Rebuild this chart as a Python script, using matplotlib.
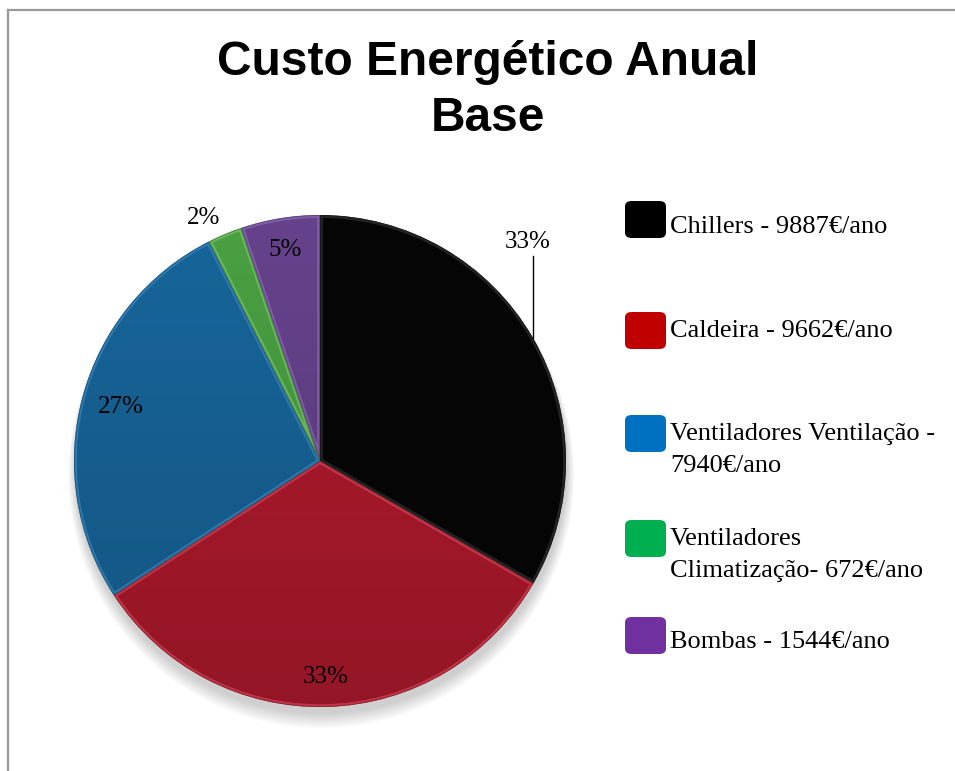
import numpy as np
import matplotlib.pyplot as plt
from matplotlib.patches import FancyBboxPatch, Circle, Wedge
from matplotlib.lines import Line2D

# custo anual por componente (euros/ano)
nomes = ["Chillers - 9887€/ano", "Caldeira - 9662€/ano",
         "Ventiladores Ventilação -\n7940€/ano",
         "Ventiladores\nClimatização- 672€/ano", "Bombas - 1544€/ano"]
custos = [9887, 9662, 7940, 672, 1544]
cores_fatia = ["#060606", "#B01A2D", "#17659A", "#4AA042", "#66428C"]
cores_borda = ["#3a3a3a", "#E0485C", "#3E8CC4", "#7CCB70", "#9272BC"]
cores_legenda = ["#000000", "#C00000", "#0070C0", "#00B050", "#7030A0"]

# distancia de cada rotulo ao centro (raio = 1)
dist_rotulo = [1.24, 0.88, 0.84, 1.07, 0.87]

W, H = 955, 771
fig = plt.figure(figsize=(W / 100, H / 100), dpi=100)
fig.patch.set_facecolor("white")

# moldura (so topo e esquerda visiveis)
fig.add_artist(Line2D([8 / W, 8 / W], [0, 1 - 10 / H], color="#9a9a9a", lw=1.6))
fig.add_artist(Line2D([8 / W, 1], [1 - 10 / H, 1 - 10 / H], color="#9a9a9a", lw=1.6))

fig.text(488 / W, 1 - 75 / H, "Custo Energético Anual", ha="center", va="baseline",
         fontsize=34.5, fontweight="bold", family="Liberation Sans")
fig.text(488 / W, 1 - 131 / H, "Base", ha="center", va="baseline",
         fontsize=34.5, fontweight="bold", family="Liberation Sans")

cx, cy, r = 320, 461, 246
ax = fig.add_axes([(cx - r) / W, (H - cy - r) / H, 2 * r / W, 2 * r / H])
ax.axis("off")

# sombra por baixo do disco
for k in range(8):
    ax.add_patch(Circle((0.005, -0.03 - 0.004 * k), 1.0 + 0.004 * k,
                        color="black", alpha=0.025, zorder=0, lw=0, clip_on=False))

wedges, _ = ax.pie(custos, colors=cores_fatia, startangle=90, counterclock=False,
                   radius=1, wedgeprops=dict(linewidth=0), frame=False)

# relevo: borda clara por dentro de cada fatia
for w, cb in zip(wedges, cores_borda):
    w.set_zorder(2)
    aro = Wedge((0, 0), 1, w.theta1, w.theta2, facecolor="none", edgecolor=cb,
                linewidth=4, alpha=0.6, zorder=3)
    ax.add_patch(aro)
    aro.set_clip_path(w)
    aro2 = Wedge((0, 0), 1, w.theta1, w.theta2, facecolor="none", edgecolor="black",
                 linewidth=1.2, alpha=0.3, zorder=3)
    ax.add_patch(aro2)
    aro2.set_clip_path(w)

# degrade vertical: escurece um pouco em direcao a base
rgba = np.zeros((256, 1, 4))
rgba[:, 0, 3] = np.linspace(0.0, 0.16, 256)
img = ax.imshow(rgba, extent=[-1, 1, -1, 1], origin="upper", zorder=2.5,
                aspect="auto", interpolation="bilinear")
img.set_clip_path(Circle((0, 0), 1, transform=ax.transData))
ax.set_xlim(-1, 1)
ax.set_ylim(-1, 1)
ax.set_aspect("equal")

total = sum(custos)
for i, (w, v, d) in enumerate(zip(wedges, custos, dist_rotulo)):
    ang = np.deg2rad((w.theta1 + w.theta2) / 2)
    txt = "%d%%" % round(100 * v / total)
    x, y = d * np.cos(ang), d * np.sin(ang)
    if i == 0:
        # rotulo externo com linha de chamada vertical
        xe, ye = np.cos(ang), np.sin(ang)
        ax.plot([xe, xe], [ye, 0.835], color="black", lw=1, zorder=4, clip_on=False)
        x, y = xe - 0.02, 0.89
    if i == 3:
        x -= 0.06
    ax.text(x, y, txt, ha="center", va="center", fontsize=18,
            family="Liberation Serif", zorder=5, clip_on=False)

# legenda: topo do quadrado e linha de base da 1a linha de texto (px)
quad_topo = [201, 312, 415, 520, 617]
texto_base = [233, 337, 440, 545, 648]
entrelinha = 32
for nome, cor, qt, tb in zip(nomes, cores_legenda, quad_topo, texto_base):
    fig.add_artist(FancyBboxPatch((625 / W, 1 - (qt + 37) / H), 41 / W, 37 / H,
                                  boxstyle="round,pad=0,rounding_size=0.007",
                                  facecolor=cor, edgecolor="none",
                                  transform=fig.transFigure))
    for k, linha in enumerate(nome.split("\n")):
        fig.text(670 / W, 1 - (tb + k * entrelinha) / H, linha, ha="left",
                 va="baseline", fontsize=19, family="Liberation Serif")

fig.savefig("out.png", dpi=100)
